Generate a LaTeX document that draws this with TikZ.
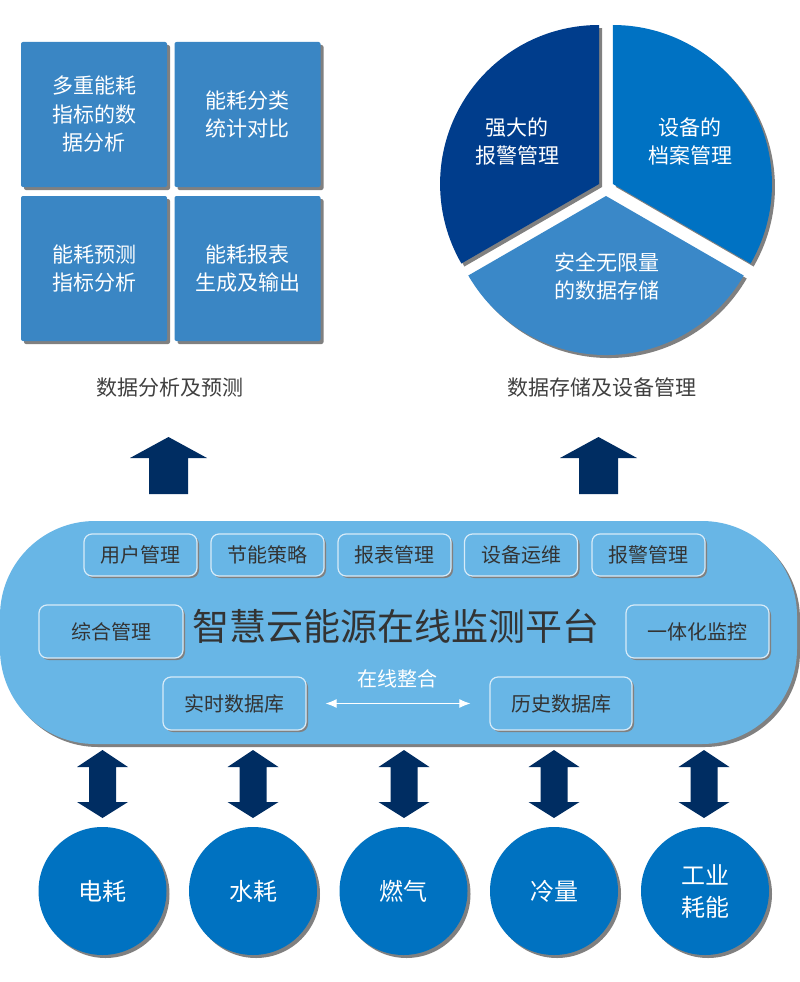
\documentclass[tikz,border=0pt]{standalone}
\usepackage{fontspec}
\setmainfont{Noto Sans CJK SC}
\usetikzlibrary{shadows,arrows.meta}
\definecolor{sqblue}{RGB}{58,134,196}
\definecolor{piedark}{RGB}{0,61,140}
\definecolor{pieright}{RGB}{0,114,195}
\definecolor{piebottom}{RGB}{58,136,200}
\definecolor{platblue}{RGB}{104,182,230}
\definecolor{circblue}{RGB}{0,114,193}
\definecolor{navyarrow}{RGB}{0,45,98}
\definecolor{shadowgray}{RGB}{128,128,128}
\definecolor{txtgray}{RGB}{51,51,51}
\definecolor{capgray}{RGB}{64,64,64}
\definecolor{boxedge}{RGB}{215,235,248}
\begin{document}
\begin{tikzpicture}[x=1pt,y=-1pt,
  shd/.style={drop shadow={shadow xshift=3pt,shadow yshift=-3pt,fill=shadowgray,opacity=1}},
  sqbox/.style={shd,fill=sqblue,minimum width=146pt,minimum height=145pt,rounded corners=2pt,text=white,align=center,font=\fontsize{21}{28.5}\selectfont,inner sep=0pt},
  modbox/.style={drop shadow={shadow xshift=2pt,shadow yshift=-2pt,fill=shadowgray,opacity=1},fill=platblue,draw=boxedge,line width=1.2pt,rounded corners=8pt,text=txtgray,font=\fontsize{20}{24}\selectfont,inner sep=0pt},
  src/.style={circle,shd,fill=circblue,minimum size=128pt,inner sep=0pt,text=white,align=center,font=\fontsize{24}{32}\selectfont},
  pietext/.style={text=white,align=center,font=\fontsize{21}{28}\selectfont},
  caption/.style={text=capgray,font=\fontsize{21}{24}\selectfont},
  blockarrow/.style={fill=navyarrow}
]
\fill[white] (0,0) rectangle (800,982);
\useasboundingbox (0,0) rectangle (800,982);

% ---- four squares
\node[sqbox] (s1) at (94,114.5) {多重能耗\\指标的数\\据分析};
\node[sqbox] (s2) at (247.5,114.5) {能耗分类\\统计对比};
\node[sqbox] (s3) at (94,268.5) {能耗预测\\指标分析};
\node[sqbox] (s4) at (247.5,268.5) {能耗报表\\生成及输出};

% ---- pie
\begin{scope}[shift={(606,188)},yscale=-1]
  \begin{scope}[shift={(3,-3)}]
    \fill[shadowgray] (150:8) -- ++(90:159) arc[start angle=90,end angle=210,radius=159] -- cycle;
    \fill[shadowgray] (30:8) -- ++(-30:159) arc[start angle=-30,end angle=90,radius=159] -- cycle;
    \fill[shadowgray] (270:8) -- ++(210:159) arc[start angle=210,end angle=330,radius=159] -- cycle;
  \end{scope}
  \fill[piedark] (150:8) -- ++(90:159) arc[start angle=90,end angle=210,radius=159] -- cycle;
  \fill[pieright] (30:8) -- ++(-30:159) arc[start angle=-30,end angle=90,radius=159] -- cycle;
  \fill[piebottom] (270:8) -- ++(210:159) arc[start angle=210,end angle=330,radius=159] -- cycle;
\end{scope}
\node[pietext] (p1) at (517,141) {强大的\\报警管理};
\node[pietext] (p2) at (690,141) {设备的\\档案管理};
\node[pietext] (p3) at (607,276) {安全无限量\\的数据存储};

% ---- captions
\node[caption] (c1) at (170,388) {数据分析及预测};
\node[caption] (c2) at (602,388) {数据存储及设备管理};

% ---- up arrows
\fill[blockarrow] (168.5,437) -- (207,458) -- (188,458) -- (188,494) -- (149,494) -- (149,458) -- (130,458) -- cycle;
\fill[blockarrow] (598.5,437) -- (637,458) -- (618,458) -- (618,494) -- (579,494) -- (579,458) -- (560,458) -- cycle;

% ---- platform
\node[shd,fill=platblue,minimum width=797pt,minimum height=223pt,rounded corners=95pt,inner sep=0pt] (plat) at (398.5,632.5) {};
\node[text=txtgray,font=\fontsize{37}{40}\selectfont] (title) at (396,626) {智慧云能源在线监测平台};

\node[modbox,minimum width=113pt,minimum height=42pt] (m1) at (140.5,555) {用户管理};
\node[modbox,minimum width=113pt,minimum height=42pt] (m2) at (267.5,555) {节能策略};
\node[modbox,minimum width=113pt,minimum height=42pt] (m3) at (394.5,555) {报表管理};
\node[modbox,minimum width=113pt,minimum height=42pt] (m4) at (521,555) {设备运维};
\node[modbox,minimum width=113pt,minimum height=42pt] (m5) at (648.5,555) {报警管理};
\node[modbox,minimum width=144pt,minimum height=53pt] (zh) at (111,631.5) {综合管理};
\node[modbox,minimum width=143pt,minimum height=53pt] (yt) at (697.5,631.5) {一体化监控};
\node[modbox,minimum width=143pt,minimum height=53pt] (rt) at (234.5,703.5) {实时数据库};
\node[modbox,minimum width=142pt,minimum height=53pt] (hist) at (561,703.5) {历史数据库};

\node[text=white,font=\fontsize{20}{22}\selectfont] (zx) at (397,679) {在线整合};
\draw[white,line width=1pt,{Latex[length=11pt,width=9pt]}-{Latex[length=11pt,width=9pt]},shorten <=19pt,shorten >=19pt] (rt) -- (hist);

% ---- double arrows
\foreach \cx in {102.5,253,404,554,704}{
  \fill[blockarrow] (\cx,750) -- (\cx+25.5,767) -- (\cx+13.5,767) -- (\cx+13.5,802) -- (\cx+25.5,802) -- (\cx,818) -- (\cx-25.5,802) -- (\cx-13.5,802) -- (\cx-13.5,767) -- (\cx-25.5,767) -- cycle;
}

% ---- source circles
\node[src] (e1) at (102.5,891) {电耗};
\node[src] (e2) at (253,891) {水耗};
\node[src] (e3) at (403.5,891) {燃气};
\node[src] (e4) at (554,891) {冷量};
\node[src] (e5) at (705,891) {工业\\耗能};
\end{tikzpicture}
\end{document}
